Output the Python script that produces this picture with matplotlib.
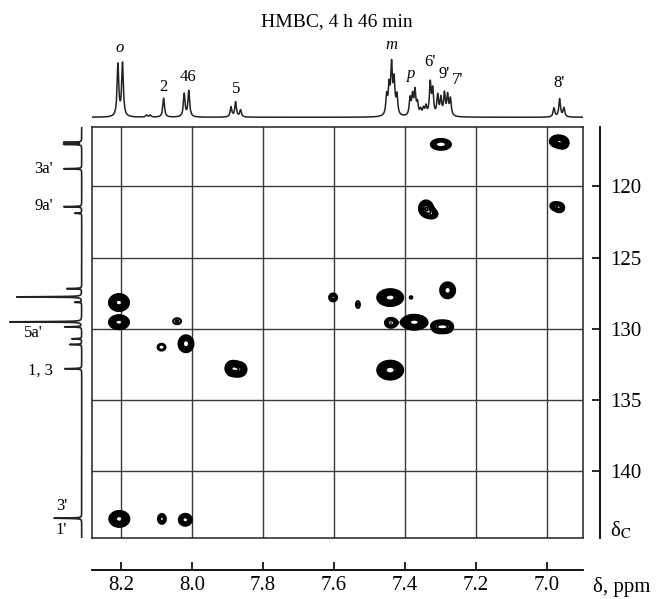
import numpy as np
import matplotlib
matplotlib.use("Agg")
import matplotlib.pyplot as plt

plt.rcParams["font.family"] = ["Liberation Serif", "DejaVu Serif"]
plt.rcParams["mathtext.fontset"] = "stix"

# ---------------------- data ----------------------

# 1H trace on top: line positions (ppm) and heights
h1_ppm = [8.209, 8.196, 8.128, 8.118, 8.080, 8.022, 8.009,
          7.890, 7.877, 7.863,
          7.451, 7.444, 7.437, 7.430, 7.422,
          7.385, 7.378, 7.371, 7.364, 7.355, 7.347, 7.340,
          7.328, 7.321, 7.307, 7.298, 7.288, 7.279, 7.271,
          6.979, 6.963, 6.951]
h1_int = [52, 53, 2, 2, 19, 23, 26,
          10, 15, 7,
          19, 27, 48, 33, 19,
          17, 19, 24, 12, 6, 7, 9,
          32, 25, 20, 17, 22, 20, 17,
          9, 18, 9]

top_labels = ["o", "2", "46", "5", "m", "p", "6'", "9'", "7'", "8'"]
top_label_ppm = [8.203, 8.081, 8.012, 7.875, 7.439, 7.381, 7.329, 7.289, 7.250, 6.964]
top_label_y = [69, 30, 40, 28, 72, 43, 55, 43, 37, 34]

# 13C trace on the left
c13_ppm = [116.92, 117.06, 118.77, 121.43, 121.89, 127.18, 127.76,
           128.14, 129.51, 129.86, 130.70, 131.10, 132.80, 143.29]
c13_int = [18, 18, 18, 18, 7, 15, 65, 7, 72, 17, 10, 12, 17, 28]

left_labels = ["3a'", "9a'", "5a'", "1, 3", "3'", "1'"]
left_label_ppm = [118.77, 121.40, 130.30, 132.95, 142.40, 144.15]
left_label_x = [28.7, 28.7, 38.7, 28.7, 14.7, 14.7]

# HMBC cross peaks: 1H shift, 13C shift, intensity, widths (ppm)
xp_h = [8.206, 8.206, 8.042, 8.086, 8.017, 7.886, 7.866, 7.602,
        7.298, 6.968, 6.953, 7.340, 7.322, 6.978, 6.963, 7.279,
        7.532, 7.441, 7.382, 7.439, 7.373, 7.310, 7.294, 7.278,
        7.441, 8.205, 8.085, 8.019]
xp_c = [128.16, 129.54, 129.47, 131.29, 131.05, 132.78, 132.85, 127.80,
        117.06, 116.85, 116.98, 121.55, 121.95, 121.38, 121.50, 127.30,
        128.30, 127.81, 127.80, 129.58, 129.54, 129.86, 129.86, 129.86,
        132.90, 143.34, 143.34, 143.40]
xp_amp = [10, 8, 1.3, 1.6, 4, 6, 5, 3,
          2.5, 6, 3, 4, 2, 2, 3, 3,
          1.3, 8, 1.2, 2.5, 8, 2.2, 2.2, 2.2,
          8, 8, 1.8, 3]
xp_wh = [0.0132, 0.0139, 0.0156, 0.0117, 0.0127, 0.0105, 0.0110, 0.0076,
         0.0210, 0.0120, 0.0095, 0.0119, 0.0120, 0.0096, 0.0086, 0.0143,
         0.0078, 0.0180, 0.0056, 0.0125, 0.0180, 0.0113, 0.0113, 0.0113,
         0.0180, 0.0139, 0.0104, 0.0124]
xp_wc = [0.277, 0.240, 0.290, 0.250, 0.357, 0.277, 0.273, 0.189,
         0.284, 0.220, 0.236, 0.336, 0.238, 0.208, 0.213, 0.378,
         0.338, 0.290, 0.139, 0.258, 0.257, 0.280, 0.280, 0.280,
         0.326, 0.274, 0.323, 0.283]

h_ticks = [8.2, 8.0, 7.8, 7.6, 7.4, 7.2, 7.0]
c_ticks = [120, 125, 130, 135, 140]
levels = [1, 1.25, 1.6, 2, 2.5, 3.2, 4, 5, 6.3, 8]

xlim = (8.283, 6.898)
ylim = (144.7, 115.82)

# ---------------------- figure layout ----------------------
fig = plt.figure(figsize=(6.6, 5.99), dpi=100)
L, W = 91.7 / 660, 491 / 660
B, H = 1 - 538.3 / 599, 411.6 / 599

ax = fig.add_axes([L, B, W, H])
ax_top = fig.add_axes([L, 1 - 124 / 599, W, 89 / 599])
ax_left = fig.add_axes([0, B, 86 / 660, H])
ax_r = fig.add_axes([592 / 660, B, 8 / 660, H])
ax_b = fig.add_axes([L, 1 - 570 / 599, W, 6 / 599])

# ---------------------- 2D contour plot ----------------------
gx = np.linspace(xlim[1], xlim[0], 1100)
gy = np.linspace(ylim[1], ylim[0], 1000)
X, Y = np.meshgrid(gx, gy)
Z = np.zeros_like(X)
for h, c, a, wh, wc in zip(xp_h, xp_c, xp_amp, xp_wh, xp_wc):
    Z += a * np.exp(-((X - h) ** 2 / (2 * wh ** 2) + (Y - c) ** 2 / (2 * wc ** 2)))

ax.contour(X, Y, Z, levels=levels, colors="k", linewidths=1.4, zorder=3)
ax.set_xlim(xlim)
ax.set_ylim(ylim)
ax.set_xticks(h_ticks)
ax.set_yticks(c_ticks)
ax.tick_params(length=0, labelbottom=False, labelleft=False)
ax.grid(True, color="#3a3a3a", lw=1.0)
ax.set_axisbelow(True)
for s in ax.spines.values():
    s.set_linewidth(1.1)
    s.set_color("#222222")

# ---------------------- 1H trace on top ----------------------
tx = np.linspace(xlim[1], xlim[0], 5000)
ty = np.zeros_like(tx)
for p, i in zip(h1_ppm, h1_int):
    ty += i * 0.0028 ** 2 / ((tx - p) ** 2 + 0.0028 ** 2)
ax_top.plot(tx, ty, color="#222222", lw=1.1)
ax_top.set_xlim(xlim)
ax_top.set_ylim(-6.7, 82.3)
ax_top.axis("off")
for lab, p, y in zip(top_labels, top_label_ppm, top_label_y):
    style = "italic" if lab in ("o", "m", "p") else "normal"
    ax_top.text(p, y, lab, ha="center", va="center", fontsize=12, style=style)

# ---------------------- 13C trace on the left ----------------------
cy = np.linspace(ylim[1], ylim[0], 8000)
cx = np.zeros_like(cy)
for p, i in zip(c13_ppm, c13_int):
    cx += i * 0.018 ** 2 / ((cy - p) ** 2 + 0.018 ** 2)
ax_left.plot(cx, cy, color="#222222", lw=1.2)
ax_left.set_xlim(81.7, -4.3)
ax_left.set_ylim(ylim)
ax_left.axis("off")
for lab, p, x in zip(left_labels, left_label_ppm, left_label_x):
    ax_left.text(x, p, lab, ha="right", va="center", fontsize=12)

# ---------------------- right 13C axis ----------------------
ax_r.set_ylim(ylim)
ax_r.patch.set_visible(False)
for k in ("left", "top", "bottom"):
    ax_r.spines[k].set_visible(False)
ax_r.spines["right"].set_linewidth(1.3)
ax_r.set_xticks([])
ax_r.yaxis.tick_right()
ax_r.set_yticks(c_ticks)
ax_r.tick_params(axis="y", direction="in", length=5.5, width=1.2, pad=7, labelsize=15)
fig.text(610 / 660, 1 - 530 / 599, r"δ$_\mathrm{C}$", ha="left", va="center", fontsize=15)

# ---------------------- bottom 1H axis ----------------------
ax_b.set_xlim(xlim)
ax_b.patch.set_visible(False)
for k in ("left", "top", "right"):
    ax_b.spines[k].set_visible(False)
ax_b.spines["bottom"].set_linewidth(1.3)
ax_b.set_yticks([])
ax_b.set_xticks(h_ticks)
ax_b.set_xticklabels([f"{t:.1f}" for t in h_ticks])
ax_b.tick_params(axis="x", direction="in", length=5.5, width=1.2, pad=4, labelsize=15)
fig.text(593 / 660, 1 - 587 / 599, "δ, ppm", ha="left", va="center", fontsize=15)

fig.text(337 / 660, 1 - 22 / 599, "HMBC, 4 h 46 min", ha="center", va="center", fontsize=14)

fig.savefig("out.png", dpi=100)
